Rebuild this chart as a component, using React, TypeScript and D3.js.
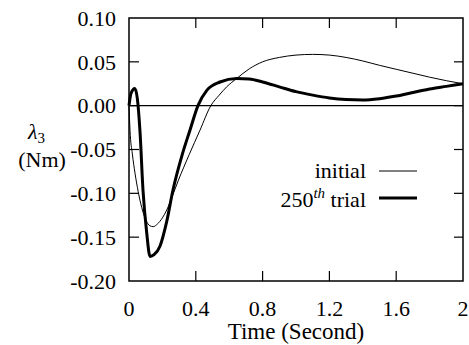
import { useEffect, useRef } from 'react'
import * as d3 from 'd3'

// values (time in seconds, lambda_3 in Nm)
const initialTime = [0, 0.006, 0.02, 0.036, 0.055, 0.076, 0.1, 0.125, 0.145, 0.17, 0.2, 0.226, 0.26, 0.296, 0.36, 0.425, 0.49, 0.54, 0.585, 0.645, 0.72, 0.8, 0.9, 1.0, 1.1, 1.2, 1.3, 1.4, 1.5, 1.6, 1.7, 1.8, 1.9, 2.0]
const initialValues = [0, -0.028, -0.055, -0.077, -0.098, -0.116, -0.13, -0.137, -0.138, -0.135, -0.128, -0.119, -0.103, -0.085, -0.056, -0.028, 0, 0.012, 0.0215, 0.031, 0.042, 0.05, 0.055, 0.0577, 0.0585, 0.0577, 0.055, 0.051, 0.046, 0.0415, 0.037, 0.0325, 0.0285, 0.025]

const trialTime = [0, 0.012, 0.035, 0.05, 0.066, 0.084, 0.106, 0.126, 0.15, 0.186, 0.226, 0.263, 0.32, 0.365, 0.413, 0.467, 0.545, 0.645, 0.72, 0.8, 0.9, 1.0, 1.1, 1.2, 1.3, 1.4, 1.5, 1.6, 1.7, 1.8, 1.9, 2.0]
const trialValues = [0, 0.014, 0.0196, 0.008, -0.03, -0.097, -0.145, -0.172, -0.17, -0.16, -0.132, -0.0965, -0.055, -0.028, 0, 0.0177, 0.027, 0.031, 0.0305, 0.027, 0.0215, 0.016, 0.012, 0.0088, 0.007, 0.0065, 0.008, 0.011, 0.015, 0.019, 0.022, 0.025]

const xTicks = [0, 0.4, 0.8, 1.2, 1.6, 2]
const xTickLabels = ['0', '0.4', '0.8', '1.2', '1.6', '2']
const yTicks = [0.1, 0.05, 0, -0.05, -0.1, -0.15, -0.2]
const yTickLabels = ['0.10', '0.05', '0.00', '-0.05', '-0.10', '-0.15', '-0.20']

const WIDTH = 469
const HEIGHT = 345
const FONT = "'Liberation Serif', 'Times New Roman', serif"

export default function App() {
  const svgRef = useRef<SVGSVGElement>(null)

  useEffect(() => {
    if (!svgRef.current) return
    const svg = d3.select(svgRef.current)
    svg.selectAll('*').remove()

    const left = 129
    const right = 463
    const top = 18
    const bottom = 281

    const x = d3.scaleLinear().domain([0, 2]).range([left, right])
    const y = d3.scaleLinear().domain([-0.2, 0.1]).range([bottom, top])

    const line = d3
      .line<[number, number]>()
      .x((d) => x(d[0]))
      .y((d) => y(d[1]))
      .curve(d3.curveMonotoneX)

    // zero line
    svg
      .append('line')
      .attr('x1', left)
      .attr('x2', right)
      .attr('y1', y(0))
      .attr('y2', y(0))
      .attr('stroke', '#000')
      .attr('stroke-width', 1.3)

    const initial = initialTime.map((t, i) => [t, initialValues[i]] as [number, number])
    const trial = trialTime.map((t, i) => [t, trialValues[i]] as [number, number])

    svg
      .append('path')
      .attr('d', line(initial) || '')
      .attr('fill', 'none')
      .attr('stroke', '#000')
      .attr('stroke-width', 1)

    svg
      .append('path')
      .attr('d', line(trial) || '')
      .attr('fill', 'none')
      .attr('stroke', '#000')
      .attr('stroke-width', 3)
      .attr('stroke-linejoin', 'round')

    // frame
    svg
      .append('rect')
      .attr('x', left)
      .attr('y', top)
      .attr('width', right - left)
      .attr('height', bottom - top)
      .attr('fill', 'none')
      .attr('stroke', '#000')
      .attr('stroke-width', 1.5)

    // inward ticks on all four sides
    const tickLen = 10
    const ticks = svg.append('g').attr('stroke', '#000').attr('stroke-width', 1.2)
    xTicks.slice(1, -1).forEach((t) => {
      ticks.append('line').attr('x1', x(t)).attr('x2', x(t)).attr('y1', bottom).attr('y2', bottom - tickLen)
      ticks.append('line').attr('x1', x(t)).attr('x2', x(t)).attr('y1', top).attr('y2', top + tickLen)
    })
    yTicks.slice(1, -1).forEach((v) => {
      ticks.append('line').attr('x1', left).attr('x2', left + tickLen).attr('y1', y(v)).attr('y2', y(v))
      ticks.append('line').attr('x1', right).attr('x2', right - tickLen + 1).attr('y1', y(v)).attr('y2', y(v))
    })

    const text = svg.append('g').attr('font-family', FONT).attr('font-size', 22).attr('fill', '#000')

    xTicks.forEach((t, i) => {
      text
        .append('text')
        .attr('x', x(t))
        .attr('y', 316)
        .attr('text-anchor', 'middle')
        .text(xTickLabels[i])
    })

    yTicks.forEach((v, i) => {
      text
        .append('text')
        .attr('x', 116)
        .attr('y', y(v))
        .attr('dy', '0.35em')
        .attr('text-anchor', 'end')
        .text(yTickLabels[i])
    })

    text
      .append('text')
      .attr('x', 296)
      .attr('y', 339)
      .attr('text-anchor', 'middle')
      .attr('font-size', 23)
      .text('Time (Second)')

    // y label: lambda_3 (Nm)
    const yl = text.append('text').attr('x', 28).attr('y', 139)
    yl.append('tspan').attr('font-style', 'italic').text('λ')
    yl.append('tspan').attr('font-size', 15).attr('dy', 4).text('3')
    text.append('text').attr('x', 42).attr('y', 167).attr('text-anchor', 'middle').text('(Nm)')

    // legend
    const legendX1 = 379
    const legendX2 = 417
    svg.append('line').attr('x1', legendX1).attr('x2', legendX2).attr('y1', 171).attr('y2', 171).attr('stroke', '#000').attr('stroke-width', 1)
    svg.append('line').attr('x1', legendX1).attr('x2', legendX2).attr('y1', 198).attr('y2', 198).attr('stroke', '#000').attr('stroke-width', 3)

    text.append('text').attr('x', 366).attr('y', 178).attr('text-anchor', 'end').text('initial')
    const l2 = text.append('text').attr('x', 366).attr('y', 207).attr('text-anchor', 'end')
    l2.append('tspan').text('250')
    l2.append('tspan').attr('font-size', 15).attr('font-style', 'italic').attr('dy', -9).text('th')
    l2.append('tspan').attr('dy', 9).text(' trial')
  }, [])

  return (
    <svg
      ref={svgRef}
      width={WIDTH}
      height={HEIGHT}
      style={{ position: 'absolute', left: 0, top: 0, background: '#fff' }}
    />
  )
}
